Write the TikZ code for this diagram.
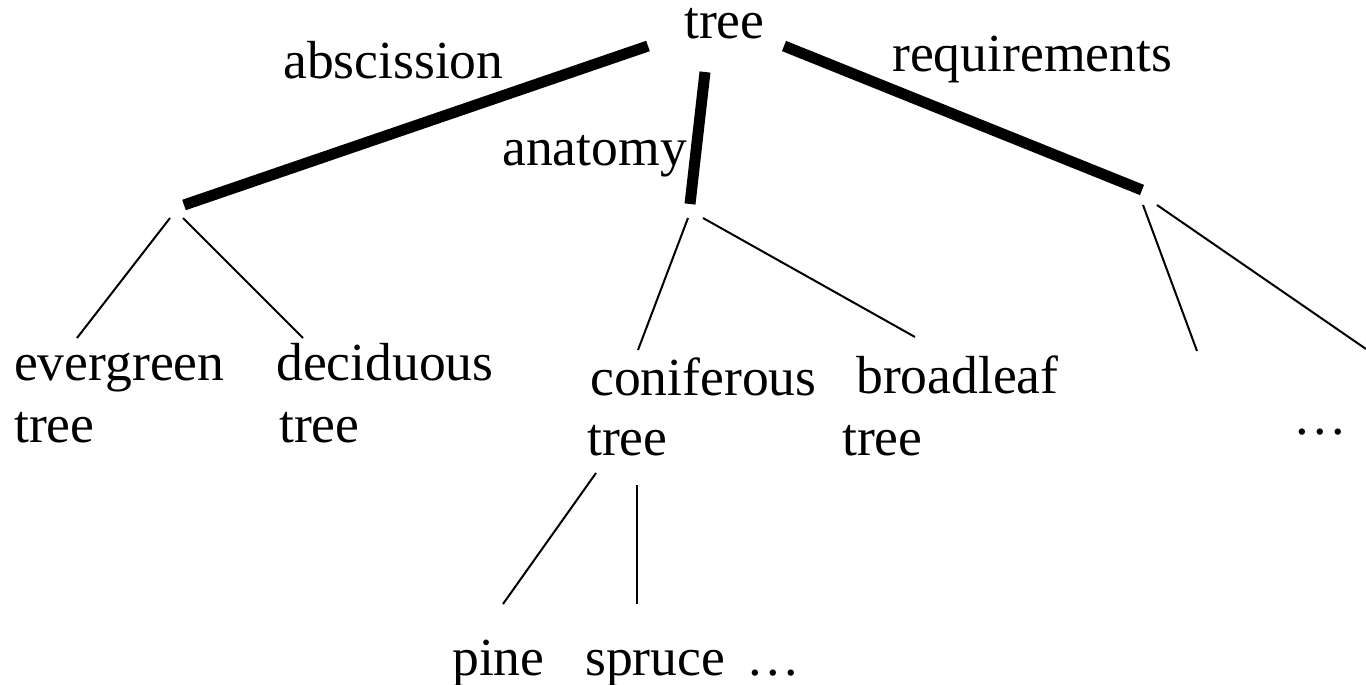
\documentclass[tikz,border=0pt]{standalone}
\usepackage{fontspec}
\setmainfont{Liberation Serif}
\begin{document}
\begin{tikzpicture}[x=1pt,y=-1pt,
  lbl/.style={inner sep=0pt,anchor=base west,font=\fontsize{53.6}{62}\selectfont},
  arc/.style={line width=11pt,line cap=butt},
  twig/.style={line width=2pt}]
\useasboundingbox (0,0) rectangle (1366,685);

% labels
\node[lbl] (root) at (684,39) {tree};
\node[lbl] (abs) at (283,78) {abscission};
\node[lbl] (ana) at (502,165) {anatomy};
\node[lbl] (req) at (892,72) {requirements};
\node[lbl] (ever) at (14,380) {evergreen};
\node[lbl] (everb) at (14,442) {tree};
\node[lbl] (deci) at (276,380) {deciduous};
\node[lbl] (decib) at (279,442) {tree};
\node[lbl] (coni) at (590,395) {coniferous};
\node[lbl] (conib) at (587,455) {tree};
\node[lbl] (broad) at (856,393) {broadleaf};
\node[lbl] (broadb) at (842,455) {tree};
\node[lbl] (moreR) at (1293,434) {\dots};
\node[lbl] (pine) at (452,675) {pine};
\node[lbl] (spruce) at (585,675) {spruce};
\node[lbl] (moreB) at (746,675) {\dots};

% branch end points
\coordinate (rL) at (648,46);
\coordinate (rM) at (705,72);
\coordinate (rR) at (784,46);
\coordinate (hL) at (184,205);
\coordinate (hM) at (690,204);
\coordinate (hR) at (1142,190);
\coordinate (aL1) at (170,218);
\coordinate (aL2) at (183,218);
\coordinate (tEver) at (77,338);
\coordinate (tDeci) at (303,338);
\coordinate (aM1) at (688,218);
\coordinate (aM2) at (703,218);
\coordinate (tConi) at (638,350);
\coordinate (tBroad) at (915,337);
\coordinate (aR1) at (1143,205);
\coordinate (aR2) at (1157,205);
\coordinate (tR1) at (1197,351);
\coordinate (tR2) at (1366,349);
\coordinate (cA) at (596,473);
\coordinate (cB) at (637,485);
\coordinate (tPine) at (503,604);
\coordinate (tSpruce) at (637,604);

% relations from the root
\draw[arc] (rL) -- (hL);
\draw[arc] (rM) -- (hM);
\draw[arc] (rR) -- (hR);

% subclasses
\draw[twig] (aL1) -- (tEver);
\draw[twig] (aL2) -- (tDeci);
\draw[twig] (aM1) -- (tConi);
\draw[twig] (aM2) -- (tBroad);
\draw[twig] (aR1) -- (tR1);
\draw[twig] (aR2) -- (tR2);
\draw[twig] (cA) -- (tPine);
\draw[twig] (cB) -- (tSpruce);
\end{tikzpicture}
\end{document}
